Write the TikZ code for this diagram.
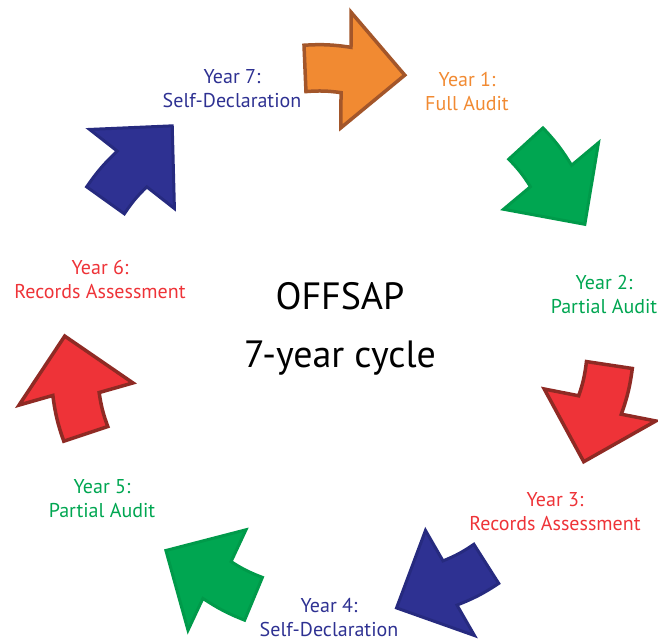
\documentclass[tikz,border=0pt]{standalone}
\usepackage{fontspec}
\setmainfont{PT Sans}
\usepackage{tikz}
\usetikzlibrary{positioning}
\definecolor{offorange}{HTML}{F18A32}
\definecolor{offbrown}{HTML}{A3562A}
\definecolor{offgreen}{HTML}{00A651}
\definecolor{offgreendark}{HTML}{009A4A}
\definecolor{offred}{HTML}{EE3338}
\definecolor{offreddark}{HTML}{8F2A24}
\definecolor{offblue}{HTML}{2E3192}
\definecolor{offbluedark}{HTML}{262A7F}
\tikzset{
	cyclearrow/.pic={
		\path[pic actions] (-44,21) to[bend left=6] (3,23) -- (0,58) -- (59,0) -- (0,-58) -- (-3,-23) to[bend right=6] (-38,-25) -- cycle;
	},
	arrorange/.style={fill=offorange, draw=offbrown, line width=3.5pt, line join=miter},
	arrgreen/.style={fill=offgreen, draw=offgreendark, line width=3pt, line join=miter},
	arrred/.style={fill=offred, draw=offreddark, line width=3.5pt, line join=miter},
	arrblue/.style={fill=offblue, draw=offbluedark, line width=3pt, line join=miter},
	yearlabel/.style={
		align=center,
		inner sep=0pt,
		font=\fontsize{20}{24}\selectfont},
	title/.style={
		align=center,
		inner sep=0pt,
		font=\fontsize{38}{58}\selectfont},
}

\begin{document}
\begin{tikzpicture}
	[x=1pt, y=1pt]
	\useasboundingbox (0,0) rectangle (658,642);
	% arrows round the cycle
	\pic (a1) [arrorange, rotate=-5] at (346,572) {cyclearrow};
	\pic (a2) [arrgreen, rotate=-55] at (551,466) {cyclearrow};
	\pic (a3) [arrred, rotate=-106] at (600,237) {cyclearrow};
	\pic (a4) [arrblue, rotate=-155] at (450,59) {cyclearrow};
	\pic (a5) [arrgreen, rotate=150] at (217,62) {cyclearrow};
	\pic (a6) [arrred, rotate=101] at (76,248) {cyclearrow};
	\pic (a7) [arrblue, rotate=47] at (132,473) {cyclearrow};
	% labels
	\node[title] (cycle) at (340,313) {OFFSAP\\7-year cycle};
	\node[yearlabel, text=offorange] (y1) at (467,550) {Year 1:\\Full Audit};
	\node[yearlabel, text=offgreen] (y2) at (604,347) {Year 2:\\Partial Audit};
	\node[yearlabel, text=offred] (y3) at (555,130) {Year 3:\\Records Assessment};
	\node[yearlabel, text=offblue] (y4) at (329,24) {Year 4:\\Self-Declaration};
	\node[yearlabel, text=offgreen] (y5) at (102,143) {Year 5:\\Partial Audit};
	\node[yearlabel, text=offred] (y6) at (100,362) {Year 6:\\Records Assessment};
	\node[yearlabel, text=offblue] (y7) at (232,553) {Year 7:\\Self-Declaration};
\end{tikzpicture}
\end{document}
